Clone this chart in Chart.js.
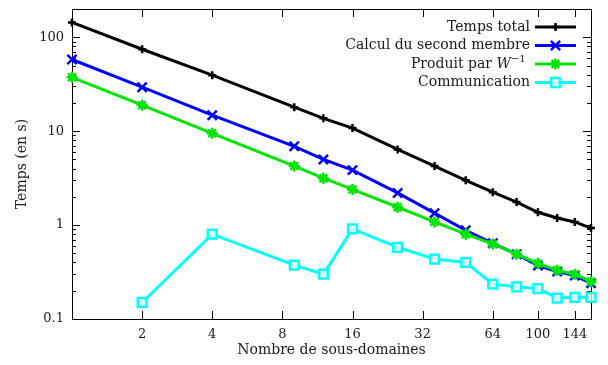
<!DOCTYPE html>
<html>
<head>
<meta charset="utf-8">
<script src="https://cdn.jsdelivr.net/npm/chart.js@4.4.1/dist/chart.umd.min.js"></script>
<style>
  html, body { margin: 0; padding: 0; background: #fff; }
  #wrap { width: 608px; height: 365px; }
</style>
</head>
<body>
<div id="wrap"><canvas id="c"></canvas></div>
<script>
const nbDomaines = [1, 2, 4, 9, 12, 16, 25, 36, 49, 64, 81, 100, 121, 144, 169];
const tempsTotal = [144, 74.5, 39.5, 18, 13.7, 10.8, 6.4, 4.25, 3.0, 2.24, 1.76, 1.37, 1.19, 1.08, 0.93];
const calculSecondMembre = [58, 29.4, 14.8, 6.9, 5.0, 3.85, 2.2, 1.34, 0.88, 0.64, 0.49, 0.37, 0.32, 0.29, 0.24];
const produitW = [37.5, 18.9, 9.5, 4.25, 3.16, 2.4, 1.55, 1.08, 0.8, 0.63, 0.49, 0.39, 0.33, 0.30, 0.25];
const communication = [null, 0.15, 0.8, 0.375, 0.30, 0.91, 0.58, 0.435, 0.40, 0.235, 0.22, 0.21, 0.167, 0.17, 0.17];

const xTicks = [2, 4, 8, 16, 32, 64, 100, 144];
const yTicks = [0.1, 1, 10, 100];

const serif = '"DejaVu Serif", serif';
const textColor = '#1a1a1a';

function points(values) {
    return nbDomaines.map((x, i) => ({ x: x, y: values[i] })).filter(p => p.y !== null);
}

// gnuplot-like box with inward ticks on all four sides
const framePlugin = {
    id: 'frame',
    beforeDatasetsDraw(chart) {
        const { ctx, chartArea: a, scales: { x, y } } = chart;
        ctx.save();
        ctx.strokeStyle = '#000';
        ctx.lineWidth = 1;
        ctx.beginPath();
        xTicks.forEach(v => {
            const px = Math.round(x.getPixelForValue(v)) + 0.5;
            ctx.moveTo(px, a.bottom); ctx.lineTo(px, a.bottom - 8);
            ctx.moveTo(px, a.top); ctx.lineTo(px, a.top + 8);
        });
        yTicks.forEach(d => {
            for (let k = 1; k <= 9; k++) {
                const v = d * k;
                if (v > y.max) break;
                const len = k === 1 ? 8 : 4;
                const py = Math.round(y.getPixelForValue(v)) + 0.5;
                ctx.moveTo(a.left, py); ctx.lineTo(a.left + len, py);
                ctx.moveTo(a.right, py); ctx.lineTo(a.right - len, py);
            }
        });
        ctx.stroke();
        ctx.strokeRect(Math.round(a.left) + 0.5, Math.round(a.top) + 0.5,
            Math.round(a.right - a.left), Math.round(a.bottom - a.top));
        ctx.restore();
    }
};

// legend: text right aligned, then line sample with its marker
const legendPlugin = {
    id: 'rightLegend',
    afterDraw(chart) {
        const ctx = chart.ctx;
        const textRight = 530, lineStart = 535, lineEnd = 576;
        const rowTop = 27, rowStep = 18.5;
        ctx.save();
        chart.data.datasets.forEach((ds, i) => {
            const yy = rowTop + i * rowStep;
            ctx.fillStyle = textColor;
            ctx.textBaseline = 'middle';
            ctx.textAlign = 'left';
            const segs = ds.legendParts || [{ t: ds.label }];
            let total = 0;
            segs.forEach(s => {
                ctx.font = (s.italic ? 'italic ' : '') + (s.sup ? '10px ' : '14px ') + serif;
                s.w = ctx.measureText(s.t).width;
                total += s.w;
            });
            let xx = textRight - total;
            segs.forEach(s => {
                ctx.font = (s.italic ? 'italic ' : '') + (s.sup ? '10px ' : '14px ') + serif;
                ctx.fillText(s.t, xx, s.sup ? yy - 5 : yy);
                xx += s.w;
            });

            ctx.strokeStyle = ds.borderColor;
            ctx.lineWidth = ds.borderWidth;
            ctx.beginPath();
            ctx.moveTo(lineStart, yy);
            ctx.lineTo(lineEnd, yy);
            ctx.stroke();
            ctx.fillStyle = ds.pointBackgroundColor;
            ctx.lineWidth = ds.pointBorderWidth;
            Chart.helpers.drawPoint(ctx, {
                pointStyle: ds.pointStyle,
                radius: ds.pointRadius,
                rotation: 0,
                borderWidth: ds.pointBorderWidth
            }, (lineStart + lineEnd) / 2, yy);
        });
        ctx.restore();
    }
};

const datasets = [
    {
        label: 'Temps total', data: points(tempsTotal),
        borderColor: '#000000', pointStyle: 'cross', pointRadius: 4, order: 4
    },
    {
        label: 'Calcul du second membre', data: points(calculSecondMembre),
        borderColor: '#0000ff', pointStyle: 'crossRot', pointRadius: 6.5, order: 3
    },
    {
        label: 'Produit par W-1', data: points(produitW),
        legendParts: [{ t: 'Produit par ' }, { t: 'W', italic: true }, { t: '\u22121', sup: true }, { t: ' ' }],
        borderColor: '#00e600', pointStyle: 'star', pointRadius: 5.5, order: 2
    },
    {
        label: 'Communication', data: points(communication),
        borderColor: '#00ffff', pointStyle: 'rect', pointRadius: 6.2, order: 1,
        pointBackgroundColor: 'rgba(255,255,255,0.75)'
    }
].map(ds => Object.assign({
    borderWidth: 3,
    pointBorderWidth: 2.5,
    pointBackgroundColor: ds.borderColor,
    pointBorderColor: ds.borderColor,
    fill: false,
    tension: 0,
    clip: false
}, ds));

new Chart(document.getElementById('c'), {
    type: 'line',
    data: { datasets: datasets },
    options: {
        responsive: true,
        maintainAspectRatio: false,
        animation: false,
        events: [],
        layout: { padding: { top: 9, right: 17, left: 0, bottom: 0 } },
        plugins: { legend: { display: false }, tooltip: { enabled: false } },
        scales: {
            x: {
                type: 'logarithmic',
                min: 1, max: 169,
                afterBuildTicks: s => { s.ticks = xTicks.map(v => ({ value: v })); },
                afterFit: s => {
                    s.height = 46;
                    s.paddingLeft = 0; s.paddingRight = 0;
                },
                grid: { display: false, drawTicks: false },
                border: { display: false },
                ticks: {
                    autoSkip: false, maxRotation: 0, padding: 8,
                    color: textColor, font: { family: serif, size: 13 },
                    callback: v => String(v)
                },
                title: {
                    display: true, text: 'Nombre de sous-domaines',
                    color: textColor, font: { family: serif, size: 14 },
                    padding: { top: 0, bottom: 6 }
                }
            },
            y: {
                type: 'logarithmic',
                min: 0.1, max: 200,
                afterBuildTicks: s => { s.ticks = yTicks.map(v => ({ value: v })); },
                afterFit: s => {
                    s.width = 72;
                    s.paddingTop = 0; s.paddingBottom = 0;
                },
                grid: { display: false, drawTicks: false },
                border: { display: false },
                ticks: {
                    autoSkip: false, padding: 8,
                    color: textColor, font: { family: serif, size: 13 },
                    callback: v => String(v)
                },
                title: {
                    display: true, text: 'Temps (en s)',
                    color: textColor, font: { family: serif, size: 14 },
                    padding: { top: 14, bottom: 0 }
                }
            }
        }
    },
    plugins: [framePlugin, legendPlugin]
});
</script>
</body>
</html>
